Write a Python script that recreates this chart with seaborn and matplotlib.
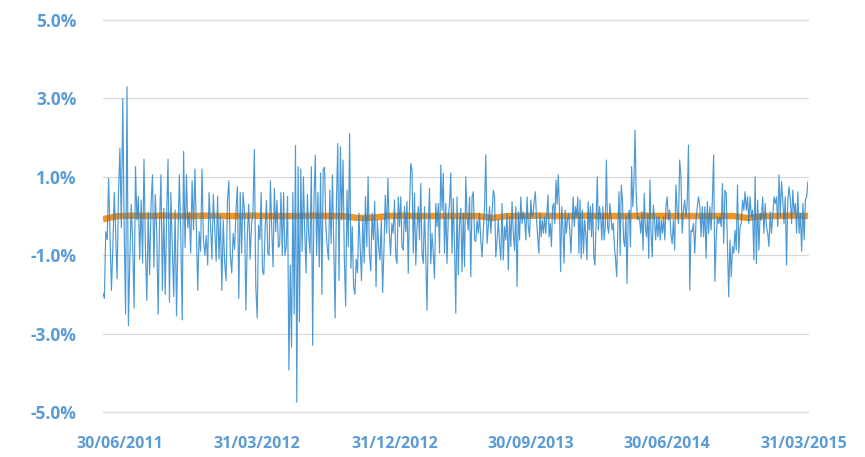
import numpy as np
import pandas as pd
import matplotlib
matplotlib.use("Agg")
import matplotlib.pyplot as plt
import seaborn as sns

# daily return (%), one list per stretch between x-axis labels
ret_p1 = [-1.97, -2.1, -0.4, -0.6, 0.96, -0.5, -1.9, -0.8, 0.6, -0.45, -1.6, 0.6, 1.73, -0.3, 3.0,
          -0.3, -2.5, 3.3, -2.8, -1.1, 0.3, -0.7, -2.35, 1.26, -0.1, 0.5, -1.1, 0.4, -1.2, 1.45,
          -0.8, -2.15, 0.1, -1.5, 0.3, 1.05, -1.3, 0.55, -0.4, -2.5, -0.2, 1.05, -1.9,
          0.2, -2.0, 0.0, 1.45, -2.2, 0.6, -0.8, -2.05, 0.15, -2.55, -0.5, 1.05, -0.5, -2.65,
          1.65, -0.8, 1.05, -0.3, 0.1, -0.95, 0.9, -0.35, 1.2, -0.3, -1.9, -0.4, -0.9, 1.2,
          -0.6, -1.0, -0.5, -1.25, 0.6, -0.2, -1.1, 0.55, -0.3, -1.15,
          0.5, -1.1, 0.0, -1.9, -0.1, -1.2, -1.65, 0.4, 0.9, -1.0, -1.45, -0.45, -0.85, 0.15,
          0.75, -2.1, 0.6, -0.95, 0.6, 0.1, -2.4, -0.5, 0.3, -1.1, -0.2, 0.1, 1.7, -1.8]
ret_p2 = [-2.6, -0.23, -0.6, 0.6, -1.4, -1.5, -0.3, 0.4, -0.95, -1.0, 0.9, -0.3, -1.3, 0.7, -0.4,
          0.4, -0.8,
          -0.75, 0.6, -1.0, 0.6, -1.0, -0.78, 0.5, -3.93, -1.25, -3.35, 0.6, -2.5, 1.8, -4.75,
          1.26, -2.7, 1.2, -0.9, 1.0, -0.4, -1.45, 0.55, -0.5, -0.95, 1.26, -3.3, 0.4, 1.55,
          -1.0, 0.6, -1.3, 1.1, -2.0, 1.2, 1.25, -0.27, -0.78, -1.12, 0.66, -0.7, 1.05, -0.78,
          -2.6, 0.32, 1.85,
          -1.65, 1.77, -0.1, 1.43, -1.1, -2.3, 0.66, -0.78, 2.1, -1.33, -0.27, -1.8, -2.0, -1.1,
          -1.45, 0.07, -0.78, -1.65, -0.02, -1.2, 0.5, -0.78, 1.0, -0.95, -1.4, 0.07, -0.6, 0.37,
          -1.8, -0.1, -0.78, -1.12, -0.1, -1.95, -0.87, 0.53, -0.44, 0.96, -0.36, -1.0, -0.19, -0.44]
ret_p3 = [0.41, -1.04, -1.21, 0.49, -0.27, 0.49, -0.78, -0.87, 0.24, -0.4, 0.37, -1.46, 0.24, 1.34,
          1.17, -0.95, 0.58, -1.25, -0.27, 0.24, -0.61, 0.83, -0.95, -1.21, 0.24, -1.12, -2.4,
          -0.27, 0.71, -1.22, -0.44, -0.95, -1.59, 0.32, -0.27, 0.32, -0.95, 1.3, 0.15, 1.09,
          -0.95, 0.32, -1.21, -0.02, 0.32, 1.1, -0.95, 0.45, -0.78, -2.48, 0.49,
          -1.5, -0.19, 0.2, -1.42, 0.07, -1.29, 1.0, -0.02, -0.36, 0.49, -1.55, 0.49, 0.62, -0.61,
          -0.65, -0.1, -0.44, 0.07, -0.61, -1.04, -0.36, 0.24, 1.56, -0.7, -0.27, 0.24, -0.44,
          0.07, 0.66, 0.49, -1.04, -0.61, -0.1, -0.7, -1.12, 0.32, -1.12, -0.27, -0.61, 0.07,
          -1.38, -0.02, -0.78, 0.37, -0.44, -0.87, 0.24, -1.8, 0.11,
          -0.61, 0.49, -0.19, 0.1, -0.06, -0.61, 0.49, -0.27, -0.53]
ret_p4 = [0.41, -0.02, 0.07, 0.41, 0.62, -0.1, -0.53, -0.95, 0.07, -0.53, -0.1, -0.44, -0.02, -0.44,
          0.07, 0.54, -0.53, -0.19, -0.78, 0.24, 0.32, -0.2, 0.92, 0.3, 1.05, 0.2, -1.42, 0.24,
          -0.27, -1.2, 0.15, -0.44, -0.1, 0.07, -0.36, -0.95, -0.19, 0.49, -0.27, 0.24,
          -0.02, 0.49, -0.95, 0.41, -1.08, 0.15, -0.95, -0.1, -0.44, -1.12, 0.37, -0.36, 0.24,
          -0.53, 0.32, -1.04, -1.25, -0.1, 1.0, -0.36, 0.24, -0.02, -0.61, 0.24, -0.61, -0.27,
          1.43, -0.27, -0.44, 0.32, -0.02, -0.36, -0.19, -0.78, -1.12, -1.55, -0.27, 0.62, -1.0,
          0.79, 0.41, -0.61, -0.78, 0.02, -1.72, -0.02, 0.15, -0.78, 1.26, 0.24, 0.83, 2.19, 0.58,
          -0.1,
          -0.02, -0.1, -0.44, 0.11, -0.87, 0.58, -0.27, -0.53, 0.07, -1.08, 0.92, -0.44, -1.04,
          0.28, -0.1, -0.61, -0.02, -0.53, -0.02, -0.61, -0.1, -0.44, -0.02, -0.61, 0.24]
ret_p5 = [0.49, -0.1, 0.15, -0.44, -0.7, -0.1, -0.87, 0.79, 0.15, -0.19, 1.43, 1.0, -0.44, 0.15,
          0.41, -0.02, 0.32, 1.81, -1.89, -0.36, -0.4, -0.19, -0.95, -0.1, 0.24, 0.49, 0.24, -0.53,
          0.24, -0.53, 0.24, -1.08, 0.37, -0.44, 0.24, -0.36, 0.41, 1.56, -1.67, -0.61, -0.02,
          -0.19, -0.02, -0.27, 0.83, -0.7, 0.66, 0.58, -0.78, -2.06, -0.61, -1.55, -0.78, -0.95,
          -0.36, -0.87, 0.79, -0.95, -0.27, -0.19, 0.41, 0.15, 0.62, 0.15, 0.49, -0.19, 0.49,
          -0.02, 0.15, -1.12, 1.0, -1.21, 0.41, -0.87, 0.07,
          -0.1, 0.49, -0.44, 0.32, -0.27, -0.44, -0.78, 0.11, -0.44, -0.02, 0.49, 0.32, 0.49,
          -0.27, 1.05, -0.02, 0.88, 0.41, -0.19, 0.49, -1.25, 0.41, 0.75, 0.41, -0.19, 0.66, 0.07,
          0.32, -0.44, 0.62, -0.44, 0.07, -0.9, 0.32, -0.61, 0.41, 0.49, 0.88]
period_edges = ["2011-05-27", "2012-03-31", "2012-12-31", "2013-09-30", "2014-06-30", "2015-04-08"]

# orange average line, one value per month
avg_ret = [-0.08, 0.0, 0.01, 0.0, 0.01, 0.0, 0.0, 0.01, 0.0, 0.0, 0.01, 0.0, 0.0, 0.0, 0.01, 0.0,
           0.0, -0.05, -0.04, 0.0, 0.01, 0.0, 0.0, 0.0, 0.0, 0.0, -0.05, 0.0, 0.0, 0.01, 0.0, 0.0,
           0.01, 0.0, 0.0, 0.0, 0.01, 0.0, 0.0, 0.0, 0.0, 0.0, 0.0, -0.05, 0.0, 0.0, 0.01, 0.0]

x_ticks = ["2011-06-30", "2012-03-31", "2012-12-31", "2013-09-30", "2014-06-30", "2015-03-31"]
y_ticks = [-5, -3, -1, 1, 3, 5]

BLUE = "#1F80CC"
ORANGE = "#F39323"
LABEL = "#5B9BD5"

# spread each stretch evenly between its edge dates
parts = [ret_p1, ret_p2, ret_p3, ret_p4, ret_p5]
frames = []
for i, vals in enumerate(parts):
    last = i == len(parts) - 1
    d = pd.date_range(period_edges[i], period_edges[i + 1], periods=len(vals) + (0 if last else 1))
    if not last:
        d = d[:-1]
    frames.append(pd.DataFrame({"date": d, "ret": vals}))
df = pd.concat(frames, ignore_index=True)
avg_df = pd.DataFrame({"date": pd.date_range(period_edges[0], period_edges[-1], periods=len(avg_ret)),
                       "avg": avg_ret})

sns.set_style("white")
plt.rcParams["font.family"] = ["Open Sans", "DejaVu Sans"]

fig, ax = plt.subplots(figsize=(8.65, 4.57), dpi=100)
fig.subplots_adjust(left=0.119, right=0.934, bottom=0.0985, top=0.956)

ax.grid(axis="y", color="#D9D9D9", linewidth=0.9, zorder=0)
sns.lineplot(data=avg_df, x="date", y="avg", ax=ax, color=ORANGE, linewidth=4.6,
             estimator=None, zorder=2, solid_capstyle="butt")
sns.lineplot(data=df, x="date", y="ret", ax=ax, color=BLUE, linewidth=0.85, alpha=0.8,
             estimator=None, zorder=3)

ax.set_xlim(pd.Timestamp(period_edges[0]), pd.Timestamp(period_edges[-1]))
ax.set_ylim(-5, 5)
ax.set_yticks(y_ticks)
ax.set_yticklabels([f"{v:.1f}%" for v in y_ticks])
tick_dates = pd.to_datetime(x_ticks)
ax.set_xticks(tick_dates)
ax.set_xticklabels([d.strftime("%d/%m/%Y") for d in tick_dates])
ax.set_xlabel("")
ax.set_ylabel("")
for spine in ax.spines.values():
    spine.set_visible(False)
ax.tick_params(axis="y", length=0, pad=19, labelsize=12.5, labelcolor=LABEL)
ax.tick_params(axis="x", length=0, pad=17, labelsize=11.5, labelcolor=LABEL)
for lbl in ax.get_xticklabels() + ax.get_yticklabels():
    lbl.set_fontweight("bold")
for gl in ax.yaxis.get_gridlines():
    gl.set_clip_on(False)

plt.savefig("out.png", dpi=100, facecolor="white")
plt.close()
